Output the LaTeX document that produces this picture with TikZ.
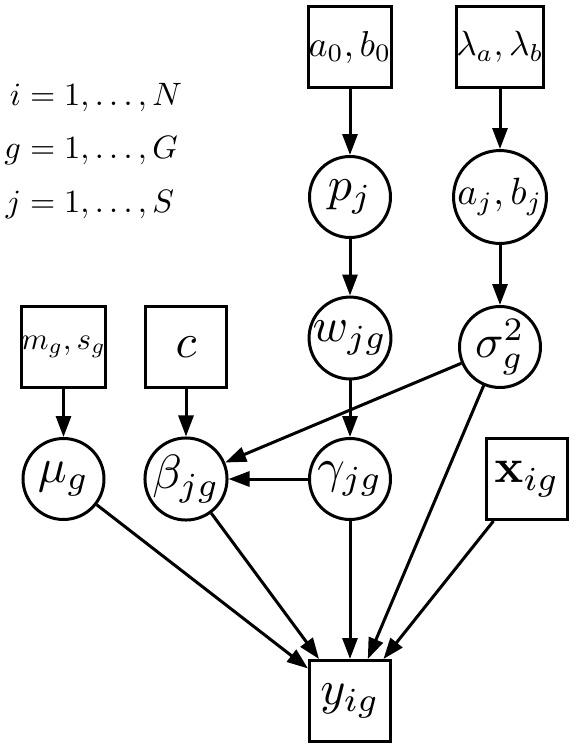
\documentclass[tikz,border=0pt]{standalone}
\usetikzlibrary{arrows.meta}
\newcommand\sm[2]{\scalebox{#1}{$#2$}}
\tikzset{
  sq/.style={rectangle, draw, line width=1.5pt, minimum size=40.5pt, inner sep=0pt},
  rv/.style={circle, draw, line width=1.5pt, minimum size=40.5pt, inner sep=0pt},
  edge/.style={line width=1.5pt, -{Triangle[length=10.5pt,width=7.5pt]}},
}
\begin{document}
\begin{tikzpicture}[x=0.5pt,y=-0.5pt]
\useasboundingbox (0,0) rectangle (575,750);
% hyperparameters and variables
\node[sq] (ab0) at (350,47) {\sm{1.8}{a_0,b_0}};
\node[sq] (lam) at (500,47) {\sm{1.75}{\lambda_a,\lambda_b}};
\node[rv] (p) at (350,197) {\sm{2.4}{p_j}};
\node[rv] (ajbj) at (500,197) {\sm{1.9}{a_j,b_j}};
\node[rv] (w) at (350,338) {\sm{2.4}{w_{jg}}};
\node[rv] (sig) at (500,347) {\sm{2.35}{\sigma_g^2}};
\node[sq] (ms) at (63.5,347) {\sm{1.55}{m_g,s_g}};
\node[sq] (c) at (186,347) {\sm{2.4}{c}};
\node[rv] (mu) at (63.5,479) {\sm{2.4}{\mu_g}};
\node[rv] (beta) at (186,479) {\sm{2.4}{\beta_{jg}}};
\node[rv] (gam) at (350,479) {\sm{2.4}{\gamma_{jg}}};
\node[sq] (x) at (527,479) {\sm{2.4}{\mathbf{x}_{ig}}};
\node[sq] (y) at (350,701) {\sm{2.4}{y_{ig}}};
% index ranges
\node[anchor=west, inner sep=0pt] (idx) at (4,151)
  {\sm{1.62}{\begin{array}{@{}r@{}l@{}} i & {}= 1,\ldots,N\\[4.5pt] g & {}= 1,\ldots,G\\[4.5pt] j & {}= 1,\ldots,S\end{array}}};
% edges
\draw[edge] (ab0) -- (p);
\draw[edge] (lam) -- (ajbj);
\draw[edge] (p) -- (w);
\draw[edge] (ajbj) -- (sig);
\draw[edge] (w) -- (gam);
\draw[edge] (ms) -- (mu);
\draw[edge] (c) -- (beta);
\draw[edge] (sig) -- (beta);
\draw[edge] (gam) -- (beta);
\draw[edge] (mu) -- (y);
\draw[edge] (beta) -- (y);
\draw[edge] (gam) -- (y);
\draw[edge] (sig) -- (y);
\draw[edge] (x) -- (y);
\end{tikzpicture}
\end{document}
